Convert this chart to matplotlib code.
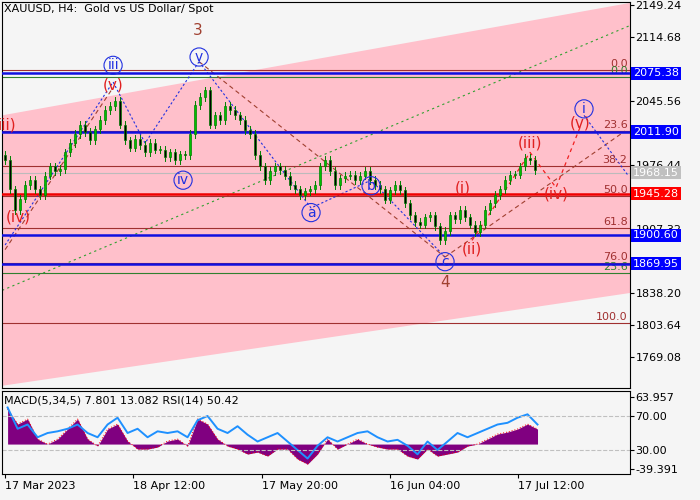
import matplotlib
matplotlib.use("Agg")
import matplotlib.pyplot as plt
from matplotlib.patches import Rectangle, Polygon

closes = [1982,1950,1928,1940,1955,1960,1950,1944,1965,1975,1970,1972,1990,2000,2010,2020,2012,2003,2015,2025,
          2036,2040,2046,2020,2003,1995,2005,1998,1990,2000,1993,1993,1985,1990,1982,1988,1987,2010,2041,2050,
          2057,2020,2030,2025,2040,2036,2030,2025,2014,2010,1987,1975,1960,1970,1975,1971,1965,1955,1950,1944,
          1948,1950,1955,1975,1982,1970,1955,1962,1965,1966,1960,1965,1970,1960,1955,1950,1939,1949,1955,1949,
          1935,1922,1915,1912,1920,1922,1910,1895,1905,1922,1918,1928,1920,1912,1904,1912,1928,1935,1944,1950,
          1960,1966,1966,1975,1984,1982,1971]
hist = [35,20,25,5,0,5,15,25,5,-2,15,20,3,-5,-5,-3,3,5,-2,25,20,5,-2,-5,-10,-8,-12,-5,-5,-15,-20,-10,5,-5,0,5,0,
        -3,-5,-5,-12,-15,-5,-12,-10,-8,-2,0,5,10,12,15,20,15]
rsi = [80,55,60,45,50,52,55,60,50,45,60,68,50,55,45,52,50,52,45,65,70,55,50,58,48,40,45,50,40,30,20,35,45,40,45,
       50,52,45,40,42,35,25,40,30,40,50,45,50,55,60,62,68,72,60]
date_labels = ["17 Mar 2023", "18 Apr 12:00", "17 May 20:00", "16 Jun 04:00", "17 Jul 12:00"]
date_pos = [0, 25.6, 51.4, 77, 102.6]
price_ticks = [2149.24, 2114.68, 2045.56, 1976.44, 1907.32, 1838.20, 1803.64, 1769.08]
blue_levels = [2075.38, 2011.90, 1900.60, 1869.95]
red_level = 1945.28
gray_level = 1968.15
fib_levels = [2079.5, 2013.4, 1975.5, 1942.6, 1908.0, 1871.0, 1806.0]
fib_names = ["0.0", "23.6", "38.2", "50.0", "61.8", "76.0", "100.0"]
green_levels = [2071.5, 1860.0]
green_names = ["0.0", "23.6"]
waves = [("iii)", 0.4, 2020, "#e02020", False), ("(iv)", 2.6, 1920, "#e02020", False),
         ("(v)", 21.6, 2063, "#e02020", False), ("iii", 21.6, 2084, "#2030e0", True),
         ("v", 38.8, 2093, "#2030e0", True), ("3", 38.6, 2122, "#a04030", False),
         ("iv", 35.6, 1960, "#2030e0", True), ("a", 61.2, 1925, "#2030e0", True),
         ("b", 73.2, 1954, "#2030e0", True), ("c", 88, 1872, "#2030e0", True),
         ("4", 88, 1850, "#a04030", False), ("(i)", 91.6, 1952, "#e02020", False),
         ("(ii)", 93.4, 1886, "#e02020", False), ("(iii)", 105, 2000, "#e02020", False),
         ("(iv)", 110.2, 1945, "#e02020", False), ("(v)", 115, 2022, "#e02020", False),
         ("i", 115.8, 2037, "#2030e0", True)]

fig = plt.figure(figsize=(7, 5), dpi=100, facecolor="#f5f5f5")
ax = fig.add_axes([0.003, 0.224, 0.897, 0.772], facecolor="#f5f5f5")
ax2 = fig.add_axes([0.003, 0.052, 0.897, 0.166], facecolor="#f5f5f5")
xmin, xmax = -0.6, 125
pmin, pmax = 1735.6, 2152.4
ax.set_xlim(xmin, xmax); ax.set_ylim(pmin, pmax)

ax.add_patch(Polygon([(xmin, 2030), (xmax, 2151.4), (xmax, 1838.2), (xmin, 1738)],
                     closed=True, facecolor="#ffc0cb", edgecolor="none", zorder=0))
ax.plot([xmin, xmax], [1841, 2127], color="#30a030", ls=(0, (2, 3)), lw=0.8, zorder=1)

for lv, nm in zip(fib_levels, fib_names):
    ax.axhline(lv, color="#a03030", lw=0.8, zorder=2)
    ax.text(124.5, lv + 1, nm, color="#a03030", fontsize=8, ha="right", va="bottom")
for lv, nm in zip(green_levels, green_names):
    ax.axhline(lv, color="#308030", lw=0.8, zorder=2)
    ax.text(124.5, lv + 1, nm, color="#308030", fontsize=8, ha="right", va="bottom")
ax.axhline(gray_level, color="#bbbbbb", lw=0.8, zorder=2)
for lv in blue_levels:
    ax.axhline(lv, color="#1010e0", lw=1.8, zorder=3)
ax.axhline(red_level, color="#f00000", lw=1.8, zorder=3)

ax.plot([0, 21.6, 28, 38.8], [1890, 2066, 2000, 2088], color="#2030e0", ls=(0, (2, 2)), lw=0.8)
ax.plot([38.8, 88], [2088, 1877], color="#a04030", ls=(0, (4, 3)), lw=0.8)
ax.plot([38.8, 61.2, 73.2, 88], [2088, 1930, 1960, 1877], color="#2030e0", ls=(0, (2, 2)), lw=0.8)
ax.plot([0, 21.6], [1885, 2060], color="#a04030", ls=(0, (4, 3)), lw=0.8)
ax.plot([88, 124], [1877, 2013], color="#a04030", ls=(0, (4, 3)), lw=0.8)
ax.plot([93.4, 105, 110.2, 115], [1895, 1990, 1952, 2017], color="#f02020", ls=(0, (3, 3)), lw=0.9)
ax.plot([115.8, 124.5], [2030, 1966], color="#2030e0", ls=(0, (2, 2)), lw=0.8)

prev = closes[0] + 5
for i, c in enumerate(closes):
    o = prev
    hi = max(o, c) + 4; lo = min(o, c) - 4
    ax.plot([i, i], [lo, hi], color="#008000", lw=0.7, zorder=4)
    ax.add_patch(Rectangle((i - 0.25, min(o, c)), 0.5, max(abs(c - o), 0.8),
                           facecolor="#00c000" if c >= o else "#000000", edgecolor="#008000", lw=0.5, zorder=5))
    prev = c

for t, x, y, col, circ in waves:
    if circ:
        ax.text(x, y, t, color=col, fontsize=10, ha="center", va="center", zorder=6,
                bbox=dict(boxstyle="circle,pad=0.15", facecolor="none", edgecolor=col, lw=0.8))
    else:
        ax.text(x, y, t, color=col, fontsize=11, ha="center", va="center", zorder=6)

ax.yaxis.tick_right()
ax.set_yticks(price_ticks)
ax.set_yticklabels([f"{v:.2f}" for v in price_ticks], fontsize=8)
ax.set_xticks([])
ax.tick_params(axis="y", length=3, pad=1)
for lv, fc, tc in [(2075.38, "#0000ff", "white"), (2011.90, "#0000ff", "white"), (1900.60, "#0000ff", "white"),
                   (1869.95, "#0000ff", "white"), (1945.28, "#ff0000", "white"), (1968.15, "#c0c0c0", "white")]:
    ax.text(1.005, (lv - pmin) / (pmax - pmin), f"{lv:.2f}", transform=ax.transAxes, fontsize=8,
            color=tc, va="center", ha="left", zorder=10,
            bbox=dict(boxstyle="square,pad=0.15", facecolor=fc, edgecolor="none"))
ax.text(0.003, 0.995, "XAUUSD, H4:  Gold vs US Dollar/ Spot", transform=ax.transAxes, fontsize=8, va="top")

base = 37
ax2.set_xlim(xmin, xmax); ax2.set_ylim(1.8, 99.4)
xs = [i * 2 + 0.5 for i in range(len(hist))]
hv = [base + h * 1.176 for h in hist]
ax2.fill_between(xs, base, hv, color="#800080", lw=0)
ax2.plot(xs, hv, color="#ff0000", ls=(0, (1, 2)), lw=0.7)
ax2.plot(xs, rsi, color="#1e90ff", lw=1.4)
for lv in (70, 30):
    ax2.axhline(lv, color="#c0c0c0", ls="--", lw=0.8)
ax2.yaxis.tick_right()
ax2.set_yticks([92.4, 70, 30, 7.6])
ax2.set_yticklabels(["63.957", "70.00", "30.00", "-39.391"], fontsize=8)
ax2.tick_params(axis="y", length=3, pad=1)
ax2.set_xticks(date_pos)
ax2.set_xticklabels(date_labels, fontsize=8, ha="left")
ax2.tick_params(axis="x", length=3, pad=2)
ax2.text(0.003, 0.95, "MACD(5,34,5) 7.801 13.082 RSI(14) 50.42", transform=ax2.transAxes, fontsize=8, va="top")

fig.savefig("out.png", dpi=100, facecolor=fig.get_facecolor())
